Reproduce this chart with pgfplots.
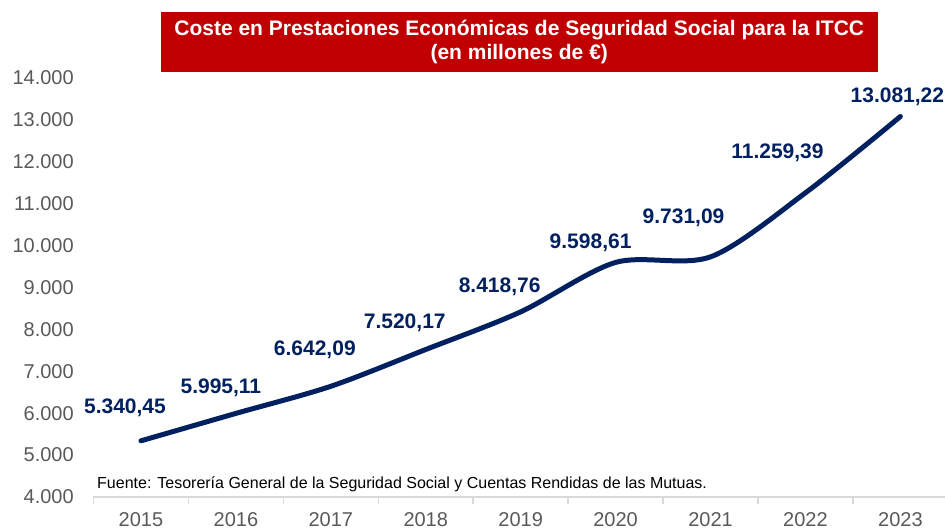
\documentclass[border=0pt]{standalone}
\usepackage{pgfplots}
\pgfplotsset{compat=1.18}
\usepackage{pgfplotstable}
\usepackage{fontspec}
\setmainfont{Liberation Sans}
\usetikzlibrary{calc}

\definecolor{navy}{RGB}{0,32,96}
\definecolor{titlered}{RGB}{192,0,0}
\definecolor{ticklab}{RGB}{89,89,89}
\definecolor{axisgray}{RGB}{217,217,217}

% year index, cost (millions EUR), label, label offset (pt)
\pgfplotstableread{
x y label dx dy
0 5340.45 5.340,45 -16 33
1 5995.11 5.995,11 -15 26
2 6642.09 6.642,09 -16 36
3 7520.17 7.520,17 -21 27
4 8418.76 8.418,76 -21 25
5 9598.61 9.598,61 -25 20
6 9731.09 9.731,09 -27 39
7 11259.39 11.259,39 -28 40
8 13081.22 13.081,22 -3 20
}\costdata

\begin{document}
\begin{tikzpicture}
\begin{axis}[
    name=ax,
    scale only axis,
    width=851.5pt, height=419pt,
    xmin=-0.5, xmax=8.47,
    ymin=4000, ymax=14000,
    xtick={0,1,2,3,4,5,6,7,8},
    xticklabels={2015,2016,2017,2018,2019,2020,2021,2022,2023},
    minor xtick={-0.5,0.5,1.5,2.5,3.5,4.5,5.5,6.5,7.5},
    major x tick style={draw=none},
    minor x tick style={axisgray, line width=1.5pt},
    minor tick length=7pt,
    tick align=outside,
    ytick={4000,5000,...,14000},
    scaled y ticks=false,
    y tick style={draw=none},
    axis x line*=bottom,
    axis y line*=left,
    x axis line style={axisgray, line width=1.5pt},
    y axis line style={draw=none},
    ticklabel style={font=\fontsize{20}{24}\selectfont, text=ticklab},
    yticklabel style={xshift=-12pt, /pgf/number format/fixed, /pgf/number format/1000 sep={.}},
    xticklabel style={yshift=-8pt},
    /pgf/number format/assume math mode=true,
    clip=false,
]
\addplot[navy, line width=5pt, line cap=round, smooth, mark=none,
    nodes near coords,
    point meta=explicit symbolic,
    visualization depends on={\thisrow{dx}\as\dx},
    visualization depends on={\thisrow{dy}\as\dy},
    every node near coord/.append style={
        font=\fontsize{21}{25}\selectfont\bfseries, text=navy,
        anchor=center, xshift=\dx pt, yshift=\dy pt}]
    table[x=x, y=y, meta=label] {\costdata};
\end{axis}

\node[anchor=base west, inner sep=0pt, font=\fontsize{16}{19}\selectfont]
    at ($(ax.south west)+(3.5pt,8pt)$)
    {Fuente: Tesorería General de la Seguridad Social y Cuentas Rendidas de las Mutuas.};

\node[fill=titlered, text=white, font=\fontsize{21}{24}\selectfont\bfseries,
    align=center, minimum width=717pt, minimum height=60pt, inner sep=0pt]
    at ($(ax.north)+(0,36pt)$)
    {Coste en Prestaciones Económicas de Seguridad Social para la ITCC\\(en millones de €)};

\pgfresetboundingbox
\path[use as bounding box] ($(ax.south west)+(-93.5pt,-34pt)$) rectangle ($(ax.north east)+(0pt,78pt)$);
\end{tikzpicture}
\end{document}
